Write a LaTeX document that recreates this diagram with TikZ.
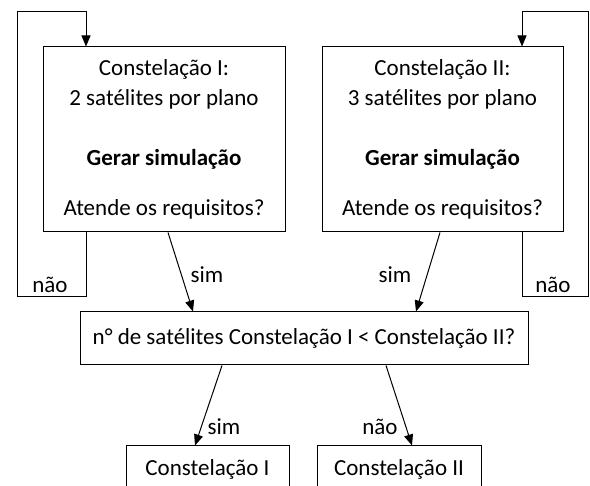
\documentclass[tikz,border=0pt]{standalone}
\usepackage{fontspec}
\setmainfont{Carlito}
\usetikzlibrary{arrows.meta}

\begin{document}
\begin{tikzpicture}[every node/.style={font=\fontsize{23bp}{30bp}\selectfont},
						box/.style={draw,line width=1bp,inner sep=0pt,align=center},
						arr/.style={line width=1bp,-{Triangle[length=11bp,width=9bp]}}]

		\clip (0bp,0bp) rectangle (590bp,486bp);

		\node[box,minimum width=242bp,minimum height=185bp] (const1) at (164.0bp,346.5bp) {Constelação I:\\2 satélites por plano\\[30bp]\textbf{Gerar simulação}\\[20bp]Atende os requisitos?};
		\node[box,minimum width=241bp,minimum height=185bp] (const2) at (442.5bp,346.5bp) {Constelação II:\\3 satélites por plano\\[30bp]\textbf{Gerar simulação}\\[20bp]Atende os requisitos?};
		\node[box,minimum width=448bp,minimum height=53bp] (compara) at (304.0bp,147.5bp) {n° de satélites Constelação I < Constelação II?};
		\node[box,minimum width=163bp,minimum height=46bp] (res1) at (207.5bp,17.0bp) {Constelação I};
		\node[box,minimum width=164bp,minimum height=46bp] (res2) at (399.0bp,17.0bp) {Constelação II};

		\coordinate (lx) at (86.0bp,0bp);
		\coordinate (l1) at (17.0bp,189.0bp);
		\coordinate (l2) at (17.0bp,474.0bp);
		\coordinate (rx) at (522.0bp,0bp);
		\coordinate (r1) at (588.5bp,189.0bp);
		\coordinate (r2) at (588.5bp,474.0bp);

		\draw[arr] (const1.south -| lx) |- (l1) -- (l2) -| (const1.north -| lx);
		\draw[arr] (const2.south -| rx) |- (r1) -- (r2) -| (const2.north -| rx);

		\draw[arr] ([xshift=4bp]const1.south) -- ([xshift=-111bp]compara.north);
		\draw[arr] ([xshift=-2.5bp]const2.south) -- ([xshift=112bp]compara.north);
		\draw[arr] ([xshift=-82bp]compara.south) -- ([xshift=-12.5bp]res1.north);
		\draw[arr] ([xshift=82bp]compara.south) -- ([xshift=13bp]res2.north);

		\node (nao1) at (50.0bp,201.0bp) {não};
		\node (sim1) at (207.0bp,211.0bp) {sim};
		\node (sim2) at (395.0bp,211.0bp) {sim};
		\node (nao2) at (553.0bp,201.0bp) {não};
		\node (sim3) at (224.0bp,59.0bp) {sim};
		\node (nao3) at (380.0bp,59.0bp) {não};

	\end{tikzpicture}
\end{document}
